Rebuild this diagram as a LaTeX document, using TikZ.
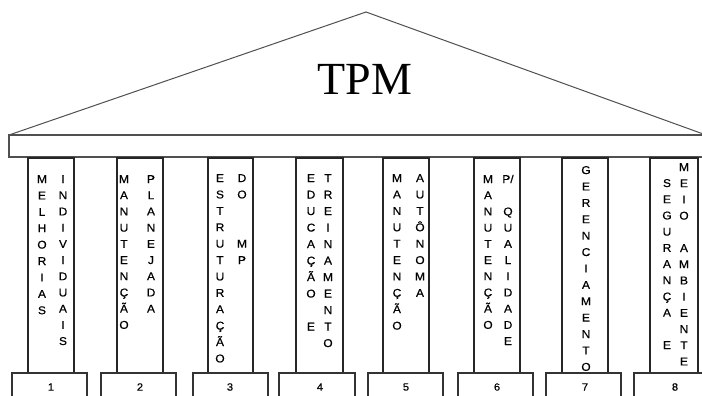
\documentclass[tikz,border=0pt]{standalone}
\usepackage{fontspec}
\setmainfont{Liberation Serif}
\newfontfamily\arialf[FakeBold=0.5,FakeStretch=1.06]{Liberation Sans}
\definecolor{roofgray}{HTML}{505050}
\newcommand\vstack[5]{%
  \foreach \l [count=\i from 0] in {#5} {\node[let] (#1-\i) at (#2, #3+\i*#4) {\l};}}
\begin{document}
\begin{tikzpicture}[x=1pt,y=-1pt,
  let/.style={inner sep=0pt, text height=8pt, text depth=0pt, font=\arialf\fontsize{11.3}{11.3}\selectfont},
  numtxt/.style={inner sep=0pt, font=\arialf\fontsize{10.5}{10.5}\selectfont},
  colbox/.style={draw=black!85, line width=1.3pt},
  basebox/.style={draw=black!80, line width=1.2pt},
  roofline/.style={draw=roofgray, line width=1pt},
  beamline/.style={draw=roofgray, line width=1.3pt}]
\useasboundingbox (0,0) rectangle (702,396);
\clip (0,0) rectangle (702,396);
\fill[white] (0,0) rectangle (702,396);
% roof
\coordinate (rl) at (9,135);
\coordinate (ra) at (366,12);
\coordinate (rr) at (706,135);
\draw[roofline] (rl) -- (ra) -- (rr);
\node[inner sep=0pt, font=\fontsize{46}{46}\selectfont] (tpm) at (365,79) {TPM};
% beam
\draw[beamline] (712,135) -- (9,135) -- (9,157) -- (712,157);
% columns
\foreach \n/\a/\b in {1/28/74,2/117/163,3/208/253,4/296/343,5/383/429,6/474/520,7/562/608,8/650/698}
  \draw[colbox] (\a,158) rectangle (\b,373) node[pos=0.5,inner sep=0pt] (col\n) {};
% bases
\foreach \n/\a/\b/\c in {1/12/87/51,2/101/176/140,3/193/268/230,4/279/355/320,5/368/443/406,6/458/533/497,7/546/621/585,8/634/712/675}{
  \draw[basebox] (\a,402) -- (\a,373) -- (\b,373) -- (\b,402);
  \node[numtxt] (num\n) at (\c,387) {\n};
}
% texts
\vstack{c1l}{42}{179}{16.4}{M,E,L,H,O,R,I,A,S}
\vstack{c1r}{63}{179}{16.2}{I,N,D,I,V,I,D,U,A,I,S}
\vstack{c2l}{124}{179}{16.2}{M,A,N,U,T,E,N,Ç,Ã,O}
\vstack{c2r}{151}{179}{16.2}{P,L,A,N,E,J,A,D,A}
\vstack{c3l}{220}{178}{16.4}{E,S,T,R,U,T,U,R,A,Ç,Ã,O}
\vstack{c3r}{242}{178}{16.4}{D,O,{},{},M,P}
\vstack{c4l}{311}{178}{16.5}{E,D,U,C,A,Ç,Ã,O,{},E}
\vstack{c4r}{328}{178}{16.5}{T,R,E,I,N,A,M,E,N,T,O}
\vstack{c5l}{397}{178}{16.4}{M,A,N,U,T,E,N,Ç,Ã,O}
\vstack{c5r}{420}{178}{16.4}{A,U,T,Ô,N,O,M,A}
\vstack{c6l}{488}{179}{16.2}{M,A,N,U,T,E,N,Ç,Ã,O}
\vstack{c6r}{508}{179}{16.2}{P/,{},Q,U,A,L,I,D,A,D,E}
\vstack{c7}{586}{170}{16.4}{G,E,R,E,N,C,I,A,M,E,N,T,O}
\vstack{c8l}{667}{183}{16.2}{S,E,G,U,R,A,N,Ç,A,{},E}
\vstack{c8r}{684}{167}{16.2}{M,E,I,O,{},A,M,B,I,E,N,T,E}
\end{tikzpicture}
\end{document}
